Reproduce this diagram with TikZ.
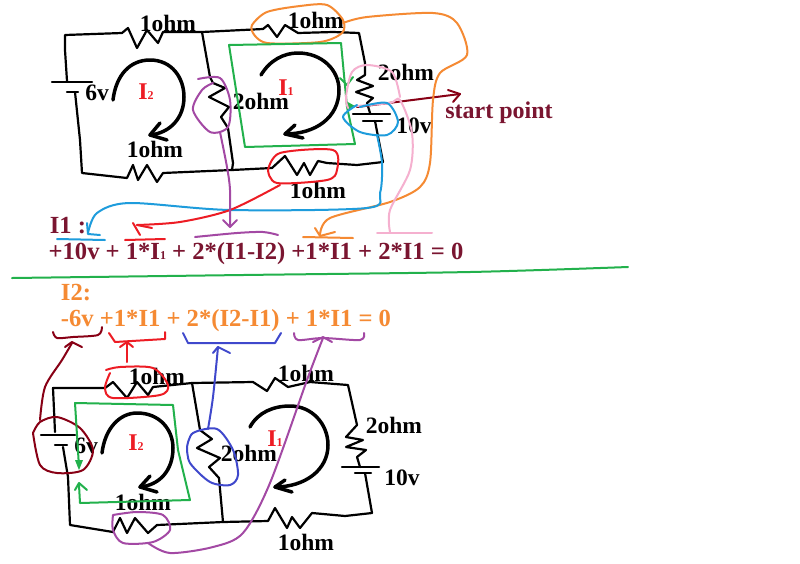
\documentclass[tikz,border=0pt]{standalone}
\usepackage{fontspec}
\setmainfont{Liberation Serif}
\definecolor{maroon}{HTML}{7A1530}
\definecolor{darkred}{HTML}{880015}
\definecolor{orng}{HTML}{F58A33}
\definecolor{redx}{HTML}{ED1C24}
\definecolor{grn}{HTML}{22B14C}
\definecolor{cyanx}{HTML}{1E9CDC}
\definecolor{purp}{HTML}{A349A4}
\definecolor{pinkx}{HTML}{F5B0CF}
\definecolor{indig}{HTML}{3F48CC}
\tikzset{
  wire/.style={black,line width=2.2pt,line join=round,line cap=round},
  mesh/.style={black,line width=3.5pt,line cap=round,line join=round},
  ink/.style={line width=2pt,line cap=round,line join=round},
  lbl/.style={font=\fontsize{23.5}{23.5}\selectfont\bfseries,text=black,inner sep=0pt},
  cur/.style={font=\fontsize{24}{24}\selectfont\bfseries,text=redx,inner sep=0pt},
  eqa/.style={font=\fontsize{24.6}{24.6}\selectfont\bfseries,text=maroon,inner sep=0pt},
  eqb/.style={font=\fontsize{24.6}{24.6}\selectfont\bfseries,text=orng,inner sep=0pt},
}
\newcommand{\subone}[1]{{\fontsize{12}{12}\selectfont #1}}
\begin{document}
\begin{tikzpicture}[x=1pt,y=-1pt]
\useasboundingbox[fill=white] (0,0) rectangle (800,563);
% ---- top circuit
\draw[wire] (67,81) -- (65,50) -- (65,35) -- (122,33) -- (128,28) -- (137,48) -- (147,30) -- (158,43) -- (163,32) -- (202,32) -- (263,29) -- (268,25) -- (277,37) -- (285,25) -- (298,33) -- (333,32) -- (359,33) -- (365,63) -- (365,75) -- (357,80) -- (373,86) -- (356,92) -- (373,98) -- (367,103) -- (370,113);
\draw[wire] (52,82) -- (92,82);
\draw[wire] (67,92) -- (78,92);
\draw[wire] (75,92) -- (80,140) -- (82,173) -- (127,178) -- (133,165) -- (138,180) -- (147,165) -- (157,182) -- (163,173) -- (232,170) -- (272,168) -- (285,156) -- (297,175) -- (304,163) -- (310,175) -- (318,161) -- (327,163) -- (357,165) -- (383,162) -- (375,121);
\draw[wire] (353,114) -- (390,114);
\draw[wire] (363,121) -- (382,121);
\draw[wire] (202,32) -- (210,77) -- (213,83) -- (225,88) -- (209,97) -- (229,107) -- (221,117) -- (228,128) -- (233,163) -- (232,170);
\draw[mesh] (113,100) .. controls (116,75) and (130,60) .. (150,60) .. controls (172,60) and (184,78) .. (184,97) .. controls (184,118) and (170,133) .. (150,135);
\draw[mesh] (160,123) -- (150,135) -- (167,140);
\draw[mesh] (261,75) .. controls (270,60) and (284,53) .. (298,53) .. controls (322,53) and (339,70) .. (339,90) .. controls (339,118) and (315,134) .. (285,134);
\draw[mesh] (295,125) -- (285,134) -- (303,138);
% labels top
\node[lbl] (ra) at (168,23) {1ohm};
\node[lbl] (rb) at (316,20) {1ohm};
\node[lbl] (rc) at (406,72) {2ohm};
\node[lbl] (bb) at (414,126) {10v};
\node[lbl] (rd) at (155,149) {1ohm};
\node[lbl] (re) at (261,101) {2ohm};
\node[lbl] (bv) at (97,93) {6v};
\node[lbl] (rf) at (318,190) {1ohm};
\node[cur] (ib) at (146,92) {I\subone{2}};
\node[cur] (ia) at (286,88) {I\subone{1}};
\node[font=\fontsize{24}{24}\selectfont\bfseries,text=maroon,inner sep=0pt] (sp) at (499,113) {start point};
% annotations top
\draw[ink,darkred] (357,107) -- (460,94);
\draw[ink,darkred] (448,90) -- (460,94) -- (453,102);
\draw[ink,orng] plot[smooth] coordinates {(253,33) (252,25) (267,12) (300,6) (327,5) (343,20) (342,33) (320,42) (267,43) (253,33)};
\draw[ink,orng] plot[smooth] coordinates {(343,23) (367,17) (433,13) (457,23) (467,55) (440,73) (433,100) (430,163) (420,187) (390,202) (330,218) (320,235)};
\draw[ink,orng] (315,228) -- (320,236) -- (335,232);
\draw[ink,orng] (303,237) -- (353,238);
\draw[ink,grn] (229,45) -- (341,43) -- (347,107) -- (355,144) -- (245,147) -- cycle;
\draw[ink,grn] (340,78) -- (347,85) -- (353,77);
\fill[grn] (346,101) -- (355,106) -- (349,110) -- cycle;
\draw[ink,pinkx] plot[smooth] coordinates {(400,97) (392,72) (367,65) (352,72) (346,97) (348,108)};
\draw[ink,pinkx] plot[smooth] coordinates {(357,106) (390,103) (400,100) (412,133) (410,170) (390,210) (390,232)};
\draw[ink,pinkx] (377,233) -- (432,233);
\draw[ink,cyanx] plot[smooth] coordinates {(360,107) (387,103) (398,122) (387,135) (360,132) (343,117) (357,105)};
\draw[ink,cyanx] plot[smooth] coordinates {(377,135) (382,163) (380,193) (367,208) (230,210) (130,203) (97,213) (88,233)};
\draw[ink,cyanx] (87,223) -- (88,234) -- (100,235);
\draw[ink,cyanx] (57,239) -- (105,240);
\draw[ink,redx] plot[smooth] coordinates {(268,170) (280,153) (333,150) (337,170) (327,180) (277,183) (268,170)};
\draw[ink,redx] plot[smooth] coordinates {(280,185) (230,210) (180,222) (137,225)};
\draw[ink,redx] (133,223) -- (140,235);
\draw[ink,redx] (137,225) -- (152,228);
\draw[ink,redx] (125,240) -- (165,239);
\draw[ink,purp] plot[smooth] coordinates {(198,79) (220,78) (230,100) (228,127) (210,132) (193,110) (202,90) (213,83)};
\draw[ink,purp] plot[smooth] coordinates {(220,132) (227,167) (230,190) (230,227)};
\draw[ink,purp] (223,220) -- (230,227) -- (237,220);
\draw[ink,purp] plot[smooth] coordinates {(195,237) (237,233) (263,232) (278,235)};
% equations
\node[eqa] (ha) at (68,226) {I1 :};
\node[eqa] (ea) at (256,254) {+10v + 1*I\subone{1} + 2*(I1-I2) +1*I1 + 2*I1 = 0};
\draw[ink,grn] plot[smooth] coordinates {(12,278) (243,275) (470,272) (628,267)};
\node[eqb] (hb) at (76,293) {I2:};
\node[eqb] (eb) at (226,321) {-6v +1*I1 + 2*(I2-I1) + 1*I1 = 0};
% ---- bottom circuit
\draw[wire] (55,432) -- (53,388) -- (105,388) -- (113,382) -- (127,398) -- (137,382) -- (148,395) -- (153,387) -- (192,383) -- (253,382) -- (267,391) -- (275,378) -- (288,387) -- (310,382) -- (348,385) -- (357,425) -- (346,437) -- (363,440) -- (346,447) -- (366,450) -- (357,457) -- (360,467);
\draw[wire] (41,435) -- (75,435);
\draw[wire] (55,445) -- (67,445);
\draw[wire] (63,447) -- (68,477) -- (70,525) -- (113,532) -- (120,518) -- (127,533) -- (135,518) -- (148,533) -- (157,525) -- (223,522) -- (268,521) -- (275,508) -- (287,528) -- (292,517) -- (300,528) -- (312,513) -- (345,516) -- (372,513) -- (365,473);
\draw[wire] (342,467) -- (379,467);
\draw[wire] (355,473) -- (371,473);
\draw[wire] (192,383) -- (200,430) -- (212,439) -- (197,448) -- (220,458) -- (209,467) -- (219,478) -- (223,522);
\draw[mesh] (102,453) .. controls (105,428) and (120,413) .. (137,413) .. controls (160,413) and (173,430) .. (173,448) .. controls (173,470) and (160,485) .. (140,487);
\draw[mesh] (150,476) -- (140,487) -- (157,492);
\draw[mesh] (250,427) .. controls (258,412) and (274,406) .. (290,406) .. controls (312,406) and (328,424) .. (328,445) .. controls (328,470) and (305,487) .. (275,487);
\draw[mesh] (285,480) -- (275,487) -- (292,492);
\node[lbl] (ta) at (157,376) {1ohm};
\node[lbl] (tb) at (306,373) {1ohm};
\node[lbl] (tc) at (394,425) {2ohm};
\node[lbl] (td) at (402,478) {10v};
\node[lbl] (te) at (306,542) {1ohm};
\node[lbl] (tf) at (249,453) {2ohm};
\node[lbl] (tg) at (86,446) {6v};
\node[lbl] (th) at (143,502) {1ohm};
\node[cur] (jb) at (136,443) {I\subone{2}};
\node[cur] (ja) at (275,439) {I\subone{1}};
% annotations bottom
\draw[ink,darkred] plot[smooth] coordinates {(33,433) (40,422) (57,417) (80,428) (93,450) (83,470) (57,473) (40,465) (33,433)};
\draw[ink,darkred] plot[smooth] coordinates {(40,420) (45,387) (62,360) (72,343)};
\draw[ink,darkred] (65,347) -- (72,342) -- (82,347);
\draw[ink,darkred] plot[smooth] coordinates {(53,332) (57,338) (73,337) (98,335) (102,327)};
\draw[ink,redx] (109,333) -- (115,342) -- (165,339) -- (165,332);
\draw[ink,redx] (127,362) -- (127,342);
\draw[ink,redx] (120,347) -- (127,342) -- (133,347);
\draw[ink,redx] plot[smooth] coordinates {(106,370) (120,367) (153,368) (168,385) (160,395) (113,398) (105,388) (110,373)};
\draw[ink,grn] (79,467) -- (75,403) -- (173,405) -- (178,450) -- (190,500) -- (80,503) -- (79,485);
\draw[ink,grn] (75,490) -- (79,483) -- (87,490);
\fill[grn] (75,460) -- (83,460) -- (79,470) -- cycle;
\draw[ink,indig] plot[smooth] coordinates {(187,447) (193,433) (217,429) (233,450) (238,475) (230,485) (210,482) (190,463) (187,447)};
\draw[ink,indig] plot[smooth] coordinates {(208,429) (213,397) (218,347)};
\draw[ink,indig] (213,353) -- (218,347) -- (230,353);
\draw[ink,indig] (183,333) -- (188,343) -- (275,343) -- (281,333);
\draw[ink,purp] plot[smooth] coordinates {(113,515) (137,512) (163,515) (170,530) (153,542) (123,543) (113,530) (113,515)};
\draw[ink,purp] plot[smooth] coordinates {(148,543) (170,553) (213,547) (243,533) (270,483) (307,380) (323,338)};
\draw[ink,purp] plot[smooth] coordinates {(294,333) (298,340) (323,338) (360,340) (364,333)};
\draw[ink,purp] (313,342) -- (323,337) -- (332,342);
\end{tikzpicture}
\end{document}
